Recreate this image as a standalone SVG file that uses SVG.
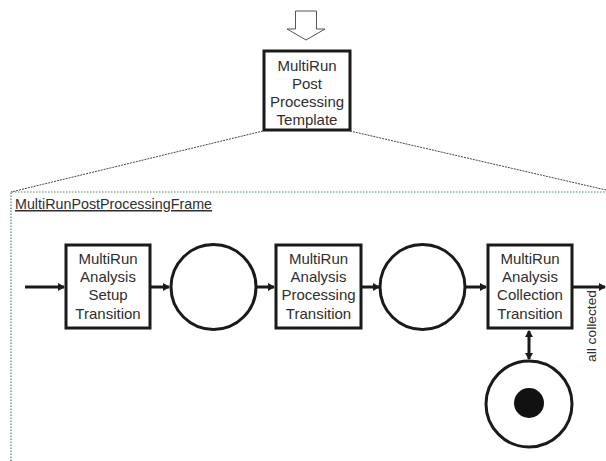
<svg xmlns="http://www.w3.org/2000/svg" width="606" height="461" viewBox="0 0 606 461">
  <style>
    .box { fill: #ffffff; stroke: #1a1a1a; stroke-width: 3; }
    .place { fill: #ffffff; stroke: #1a1a1a; stroke-width: 3; }
    .lbl { font-family: "Liberation Sans", Arial, sans-serif; font-size: 15px; fill: #2e2e2e; text-anchor: middle; }
    .arc { stroke: #1a1a1a; stroke-width: 3; fill: none; }
    .zoomline { stroke: #444444; stroke-width: 1; stroke-dasharray: 2 1; fill: none; }
    .frame { stroke: #4f8a5f; stroke-width: 1.2; stroke-dasharray: 1.5 1.5; fill: none; }
  </style>
  <defs>
    <marker id="head" markerWidth="8" markerHeight="8" refX="6" refY="4" orient="auto-start-reverse" markerUnits="userSpaceOnUse">
      <path d="M0,0 L7,4 L0,8 Z" fill="#1a1a1a"/>
    </marker>
  </defs>

  <rect width="606" height="461" fill="#ffffff"/>

  <!-- hollow arrow into the template -->
  <g id="entry-arrow">
    <path d="M295.5,11 H316.5 V29 H325 L306,40 L287,29 H295.5 Z" fill="#ffffff" stroke="#555555" stroke-width="1"/>
  </g>

  <!-- template node -->
  <g id="template">
    <rect class="box" x="264" y="51" width="86" height="79"/>
    <text class="lbl" x="307" y="71">MultiRun</text>
    <text class="lbl" x="307" y="89">Post</text>
    <text class="lbl" x="307" y="107">Processing</text>
    <text class="lbl" x="307" y="125">Template</text>
  </g>

  <!-- expansion lines and frame -->
  <g id="frame">
    <path class="zoomline" d="M263,131 L11,192"/>
    <path class="zoomline" d="M350,131 L606,190"/>
    <path class="frame" d="M11,461 V192 H606"/>
    <text x="15" y="209" font-family="'Liberation Sans', Arial, sans-serif" font-size="15" fill="#2e2e2e" text-decoration="underline" textLength="197" lengthAdjust="spacingAndGlyphs">MultiRunPostProcessingFrame</text>
  </g>

  <!-- connectors -->
  <g id="connectors">
    <line class="arc" x1="25" y1="287" x2="64" y2="287" marker-end="url(#head)"/>
    <line class="arc" x1="151" y1="287" x2="169" y2="287" marker-end="url(#head)"/>
    <line class="arc" x1="257" y1="287" x2="274" y2="287" marker-end="url(#head)"/>
    <line class="arc" x1="362" y1="287" x2="379" y2="287" marker-end="url(#head)"/>
    <line class="arc" x1="466" y1="287" x2="486" y2="287" marker-end="url(#head)"/>
    <line class="arc" x1="573" y1="287" x2="605" y2="287" marker-end="url(#head)"/>
    <line class="arc" x1="529" y1="331" x2="529" y2="359" marker-start="url(#head)" marker-end="url(#head)"/>
    <text x="596" y="362" transform="rotate(-90 596 362)" font-family="'Liberation Sans', Arial, sans-serif" font-size="13" fill="#2e2e2e" textLength="72" lengthAdjust="spacingAndGlyphs">all collected</text>
  </g>

  <!-- transitions -->
  <g id="setup-transition">
    <rect class="box" x="66" y="245" width="84" height="83"/>
    <text class="lbl" x="108" y="264">MultiRun</text>
    <text class="lbl" x="108" y="282">Analysis</text>
    <text class="lbl" x="108" y="300">Setup</text>
    <text class="lbl" x="108" y="319">Transition</text>
  </g>
  <g id="processing-transition">
    <rect class="box" x="276" y="245" width="85" height="83"/>
    <text class="lbl" x="318.5" y="264">MultiRun</text>
    <text class="lbl" x="318.5" y="282">Analysis</text>
    <text class="lbl" x="318.5" y="300">Processing</text>
    <text class="lbl" x="318.5" y="319">Transition</text>
  </g>
  <g id="collection-transition">
    <rect class="box" x="488" y="245" width="84" height="83"/>
    <text class="lbl" x="530" y="264">MultiRun</text>
    <text class="lbl" x="530" y="282">Analysis</text>
    <text class="lbl" x="530" y="300">Collection</text>
    <text class="lbl" x="530" y="319">Transition</text>
  </g>

  <!-- places -->
  <g id="place-1">
    <circle class="place" cx="213.5" cy="287" r="42.5"/>
  </g>
  <g id="place-2">
    <circle class="place" cx="422.5" cy="287" r="42.5"/>
  </g>
  <g id="token-place">
    <circle class="place" cx="529" cy="404" r="43"/>
    <circle cx="529" cy="403" r="15" fill="#111111"/>
  </g>
</svg>
